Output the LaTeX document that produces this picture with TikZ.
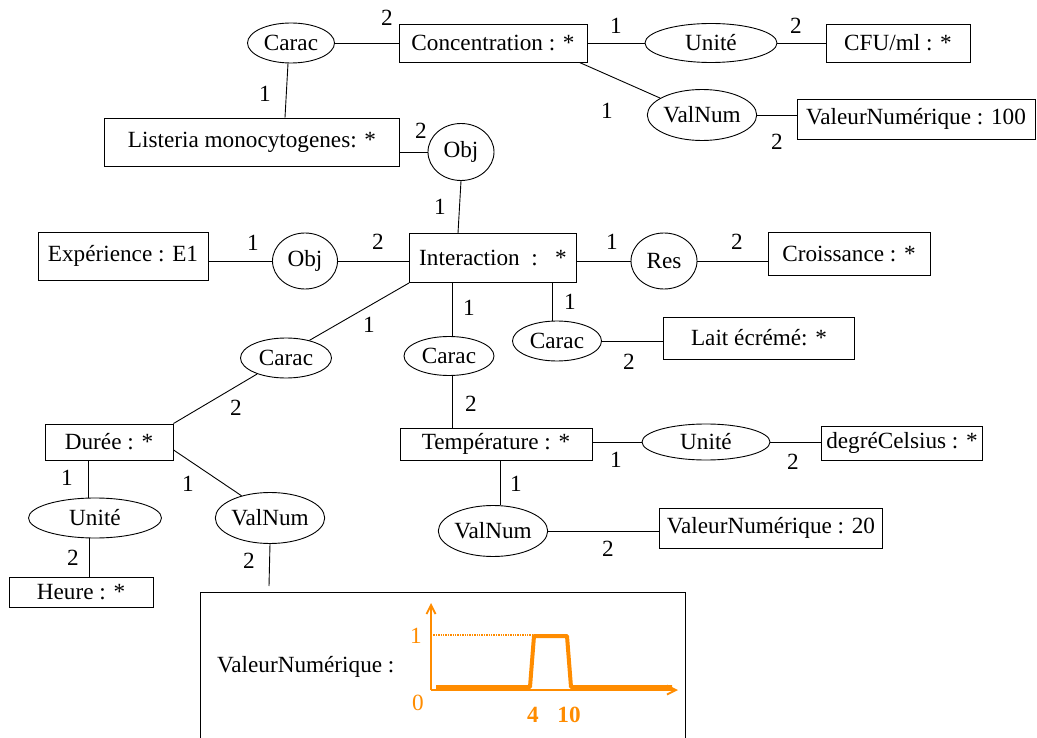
\documentclass[tikz,border=0pt]{standalone}
\usepackage{fontspec}
\setmainfont{Liberation Serif}
\usetikzlibrary{shapes.geometric,arrows.meta,calc}
\definecolor{orng}{RGB}{255,140,0}
\begin{document}
\begin{tikzpicture}[x=1pt,y=-1pt,
  every node/.style={font=\fontsize{23.2}{28}\selectfont},
  box/.style={draw, rectangle, inner sep=0pt, line width=0.9pt},
  rel/.style={draw, ellipse, inner sep=0pt, line width=0.9pt},
  lnk/.style={line width=0.9pt},
  num/.style={inner sep=0pt},
  orn/.style={text=orng, inner sep=0pt},
  ornb/.style={text=orng, inner sep=0pt, font=\fontsize{23.2}{28}\selectfont\bfseries}]
\useasboundingbox (0,0) rectangle (1037,738);

% boxes
\node[box, minimum width=188, minimum height=38] (conc) at (493,43) {Concentration : *};
\node[box, minimum width=144, minimum height=38] (cfu) at (898,43) {CFU/ml : *};
\node[box, minimum width=238, minimum height=40] (v100) at (916,119) {ValeurNumérique : 100};
\node[box, minimum width=295, minimum height=48] (list) at (252,142) {Listeria monocytogenes: *};
\node[box, minimum width=170, minimum height=48] (exp) at (123,256) {Expérience : E1};
\node[box, minimum width=167, minimum height=49] (inter) at (493,258) {Interaction\ \ :\ \ \ *};
\node[box, minimum width=162, minimum height=43] (crois) at (849,254) {Croissance : *};
\node[box, minimum width=191, minimum height=42] (lait) at (759,338) {Lait écrémé: *};
\node[box, minimum width=128, minimum height=36] (due) at (109,442) {Durée : *};
\node[box, minimum width=192, minimum height=32] (temp) at (496,444) {Température : *};
\node[box, minimum width=161, minimum height=34] (degre) at (902,443) {degréCelsius : *};
\node[box, minimum width=144, minimum height=30] (heure) at (81,592) {Heure : *};
\node[box, minimum width=223, minimum height=40] (v20) at (771,528) {ValeurNumérique : 20};
\node[box, minimum width=485, minimum height=175, anchor=north west] (vbig) at (200,592) {};

% ellipses
\node[rel, minimum width=87, minimum height=40] (c1) at (291,43) {Carac};
\node[rel, minimum width=132, minimum height=39] (u1) at (711,43) {Unité};
\node[rel, minimum width=95, minimum height=51] (vn1) at (702,115) {ValNum};
\node[rel, minimum width=66, minimum height=57] (obj1) at (461,152) {Obj};
\node[rel, minimum width=65, minimum height=56] (obj2) at (305,261) {Obj};
\node[rel, minimum width=66, minimum height=56] (res) at (664,261) {Res};
\node[rel, minimum width=89, minimum height=40] (cl) at (557,341) {Carac};
\node[rel, minimum width=91, minimum height=40] (cleft) at (286,358) {Carac};
\node[rel, minimum width=90, minimum height=39] (cm) at (449,356) {Carac};
\node[rel, minimum width=128, minimum height=36] (ut) at (706,442) {Unité};
\node[rel, minimum width=133, minimum height=40] (ul) at (95,518) {Unité};
\node[rel, minimum width=90, minimum height=51] (vnl) at (270,518) {ValNum};
\node[rel, minimum width=97, minimum height=51] (vnt) at (493,531) {ValNum};
\coordinate (vend) at (269,586);

% connectors
\draw[lnk] (c1.east) -- (conc.west);
\draw[lnk] ($(c1.south)+(-3,0)$) -- ($(list.north)+(33,0)$);
\draw[lnk] (conc.east) -- (u1.west);
\draw[lnk] (u1.east) -- (cfu.west);
\draw[lnk] ($(conc.south east)+(-8,0)$) -- (vn1.158);
\draw[lnk] (vn1.east) -- (vn1.east -| v100.west);
\draw[lnk] (list.east |- obj1.west) -- (obj1.west);
\draw[lnk] (obj1.south) -- ($(inter.north)+(-35,0)$);
\draw[lnk] (exp.east |- obj2.west) -- (obj2.west);
\draw[lnk] (obj2.east) -- (obj2.east -| inter.west);
\draw[lnk] (inter.east |- res.west) -- (res.west);
\draw[lnk] (res.east) -- (res.east -| crois.west);
\draw[lnk] ($(inter.south)+(59,0)$) -- ($(cl.north)+(-5,0)$);
\draw[lnk] (cl.east) -- (cl.east -| lait.west);
\draw[lnk] (inter.south west) -- (cleft.37);
\draw[lnk] (cleft.209) -- (due.north east);
\draw[lnk] ($(inter.south)+(-41,0)$) -- ($(cm.north)+(3,0)$);
\draw[lnk] ($(cm.south)+(3,0)$) -- ($(temp.north)+(-44,0)$);
\draw[lnk] (temp.east |- ut.west) -- (ut.west);
\draw[lnk] (ut.east) -- (ut.east -| degre.west);
\draw[lnk] ($(temp.south)+(4,0)$) -- ($(vnt.north)+(7,0)$);
\draw[lnk] (vnt.east) -- (vnt.east -| v20.west);
\draw[lnk] ($(due.south)+(-21,0)$) -- ($(ul.north)+(-7,0)$);
\draw[lnk] ($(ul.south)+(-6,0)$) -- ($(heure.north)+(8,0)$);
\draw[lnk] (due.-7) -- (vnl.142);
\draw[lnk] (vnl.south) -- (vend);

% cardinality labels
\node[num] (n1) at (387,18) {2};
\node[num] (n2) at (265,94) {1};
\node[num] (n3) at (616,26) {1};
\node[num] (n4) at (796,26) {2};
\node[num] (n5) at (607,111) {1};
\node[num] (n6) at (777,142) {2};
\node[num] (n7) at (421,131) {2};
\node[num] (n8) at (440,207) {1};
\node[num] (n9) at (253,243) {1};
\node[num] (n10) at (378,242) {2};
\node[num] (n11) at (612,242) {1};
\node[num] (n12) at (737,242) {2};
\node[num] (n13) at (570,302) {1};
\node[num] (n14) at (629,362) {2};
\node[num] (n15) at (369,325) {1};
\node[num] (n16) at (469,308) {1};
\node[num] (n17) at (236,408) {2};
\node[num] (n18) at (471,404) {2};
\node[num] (n19) at (616,460) {1};
\node[num] (n20) at (793,462) {2};
\node[num] (n21) at (67,478) {1};
\node[num] (n22) at (188,484) {1};
\node[num] (n23) at (516,484) {1};
\node[num] (n24) at (73,558) {2};
\node[num] (n25) at (249,561) {2};
\node[num] (n26) at (608,549) {2};

% content of the big box
\node[anchor=west, inner sep=0pt] (vtxt) at (217,667) {ValeurNumérique :};
\draw[orng, line width=1.8pt, -{Straight Barb[length=9pt,width=9pt]}] (431,690) -- (431,603);
\draw[orng, line width=1.8pt, -{Straight Barb[length=9pt,width=9pt]}] (431,690) -- (678,690);
\draw[orng, line width=1.4pt, densely dotted] (431,635) -- (534,635);
\draw[orng, line width=4pt, line join=round] (436,687) -- (530,687) -- (534,636) -- (567,636) -- (571,687) -- (672,687);
\node[orn] (o1) at (416,636) {1};
\node[orn] (o0) at (418,703) {0};
\node[ornb] (o4) at (533,715) {4};
\node[ornb] (o10) at (569,715) {10};
\end{tikzpicture}
\end{document}
